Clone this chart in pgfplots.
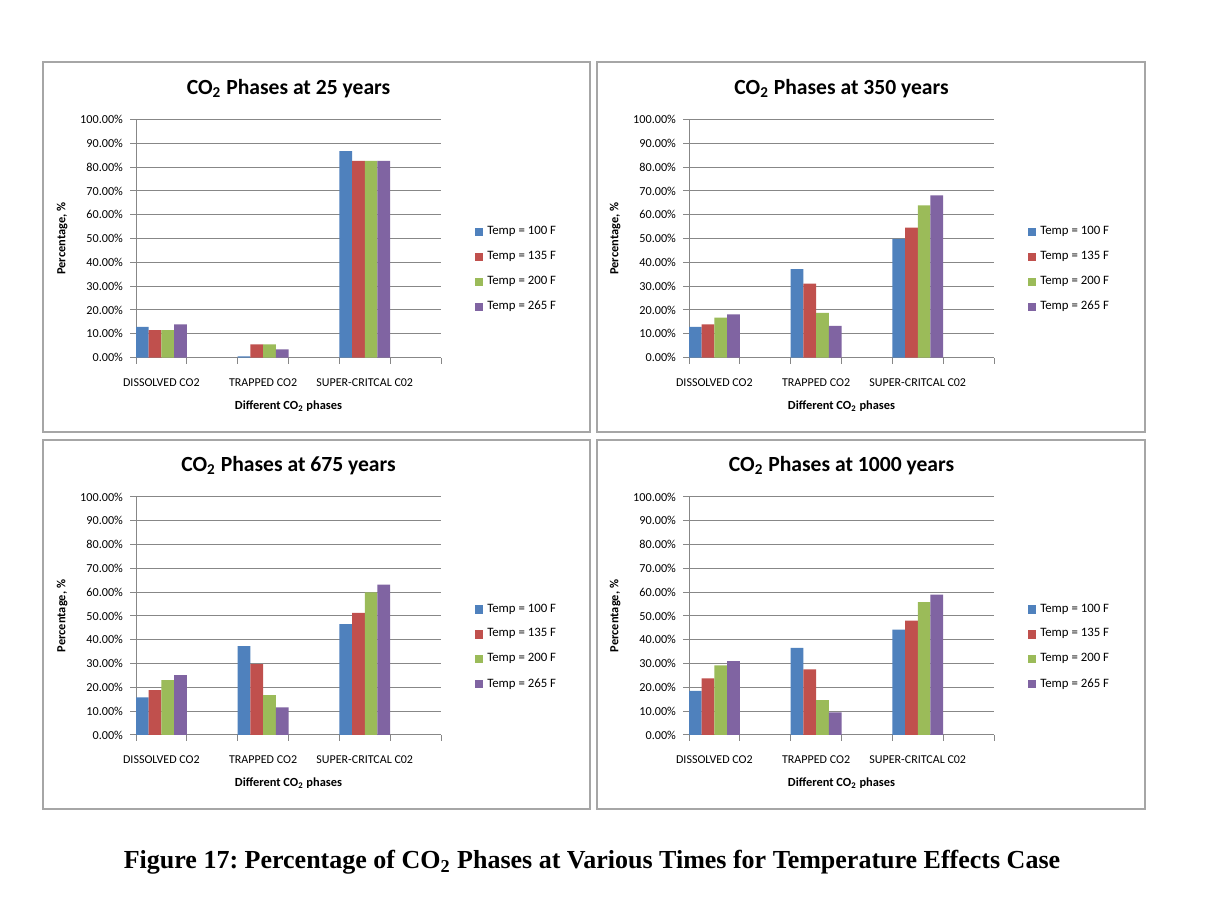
\documentclass[border=0pt]{standalone}
\usepackage{pgfplots}
\pgfplotsset{compat=1.18}
\usepackage{fontspec}
\setmainfont{Carlito}
\newfontfamily\capfont{Liberation Serif}
\frenchspacing
\definecolor{sblue}{HTML}{4F81BD}
\definecolor{sred}{HTML}{C0504D}
\definecolor{sgreen}{HTML}{9BBB59}
\definecolor{spurple}{HTML}{8064A2}
\definecolor{gridc}{HTML}{878787}
\definecolor{framec}{HTML}{A6A6A6}

% categories at x = 0, 2, 4 (empty slots at 1, 3, 5)
\pgfplotsset{
  panel/.style={
    at={#1}, anchor=south west,
    width=152.5pt, height=119pt, scale only axis,
    ybar=0pt, bar width=0.25,
    ymin=0, ymax=100, ytick={0,10,...,100},
    xmin=-0.5, xmax=5.5,
    xtick={0,2,4},
    xticklabels={DISSOLVED CO2, TRAPPED CO2, SUPER-CRITCAL C02},
    major x tick style={draw=none},
    minor xtick={-0.5,0.5,...,5.5},
    minor x tick style={draw=gridc, line width=0.5pt},
    axis x line*=bottom, axis y line*=left,
    axis line style={draw=gridc, line width=0.5pt, -},
    ymajorgrids, grid style={draw=gridc, line width=0.5pt},
    tick align=outside, major tick length=3pt, minor tick length=3pt,
    y tick style={draw=gridc, line width=0.5pt},
    yticklabel={\pgfmathprintnumber[fixed,fixed zerofill,precision=2]{\tick}\%},
    /pgf/number format/assume math mode=true,
    yticklabel style={font=\fontsize{6.1}{6.5}\selectfont},
    xticklabel style={font=\fontsize{6}{6.5}\selectfont, yshift=-3.8pt},
    xlabel={\bfseries Different CO\textsubscript{2} phases},
    xlabel style={font=\fontsize{6.2}{7}\selectfont, yshift=-0.5pt},
    ylabel={\bfseries Percentage, \%},
    ylabel style={font=\fontsize{6.2}{7}\selectfont, yshift=-0.5pt},
    title style={font=\bfseries\fontsize{10.8}{12}\selectfont, yshift=1.5pt},
    legend style={draw=none, fill=none, at={(1.09,0.37)}, anchor=west,
      font=\fontsize{6.4}{7}\selectfont, row sep=2.8pt,
      /tikz/every even column/.append style={column sep=0pt}},
    legend cell align=left,
    legend image code/.code={\fill[##1] (0pt,-2.1pt) rectangle (4.2pt,2.1pt);},
    every axis plot/.append style={draw=none},
    clip=false,
  }
}

\begin{document}
\begin{tikzpicture}[x=1pt,y=1pt]
\path[use as bounding box] (0,0) rectangle (604,454);
\fill[white] (0,0) rectangle (604,454);
% panel frames
\draw[framec, line width=0.6pt] (21.5,238) rectangle (295,423);
\draw[framec, line width=0.6pt] (298.5,238) rectangle (572.5,423);
\draw[framec, line width=0.6pt] (21.5,49.5) rectangle (295,234);
\draw[framec, line width=0.6pt] (298.5,49.5) rectangle (572.5,234);

% Panel 1: 25 years
\begin{axis}[panel={(68pt,275.2pt)}, title={CO\textsubscript{2} Phases at 25 years}]
\addplot[fill=sblue] coordinates {(0,12.9) (2,0.5) (4,86.7)};
\addplot[fill=sred] coordinates {(0,11.5) (2,5.6) (4,82.6)};
\addplot[fill=sgreen] coordinates {(0,11.5) (2,5.6) (4,82.6)};
\addplot[fill=spurple] coordinates {(0,14.0) (2,3.5) (4,82.6)};
\legend{Temp = 100 F, Temp = 135 F, Temp = 200 F, Temp = 265 F}
\end{axis}

% Panel 2: 350 years
\begin{axis}[panel={(344.5pt,275.2pt)}, title={CO\textsubscript{2} Phases at 350 years}]
\addplot[fill=sblue] coordinates {(0,12.9) (2,37.2) (4,49.9)};
\addplot[fill=sred] coordinates {(0,14.0) (2,31.1) (4,54.6)};
\addplot[fill=sgreen] coordinates {(0,16.8) (2,18.8) (4,64.0)};
\addplot[fill=spurple] coordinates {(0,18.2) (2,13.3) (4,68.2)};
\legend{Temp = 100 F, Temp = 135 F, Temp = 200 F, Temp = 265 F}
\end{axis}

% Panel 3: 675 years
\begin{axis}[panel={(68pt,86.5pt)}, title={CO\textsubscript{2} Phases at 675 years}]
\addplot[fill=sblue] coordinates {(0,15.8) (2,37.3) (4,46.6)};
\addplot[fill=sred] coordinates {(0,18.9) (2,29.8) (4,51.3)};
\addplot[fill=sgreen] coordinates {(0,23.1) (2,16.8) (4,59.9)};
\addplot[fill=spurple] coordinates {(0,25.2) (2,11.6) (4,63.2)};
\legend{Temp = 100 F, Temp = 135 F, Temp = 200 F, Temp = 265 F}
\end{axis}

% Panel 4: 1000 years
\begin{axis}[panel={(344.5pt,86.5pt)}, title={CO\textsubscript{2} Phases at 1000 years}]
\addplot[fill=sblue] coordinates {(0,18.5) (2,36.6) (4,44.3)};
\addplot[fill=sred] coordinates {(0,23.8) (2,27.6) (4,48.1)};
\addplot[fill=sgreen] coordinates {(0,29.2) (2,14.7) (4,55.8)};
\addplot[fill=spurple] coordinates {(0,31.0) (2,9.5) (4,59.0)};
\legend{Temp = 100 F, Temp = 135 F, Temp = 200 F, Temp = 265 F}
\end{axis}

\node[font=\capfont\bfseries\fontsize{13}{15}\selectfont] at (296,23) {Figure 17: Percentage of CO\textsubscript{2} Phases at Various Times for Temperature Effects Case};
\end{tikzpicture}
\end{document}
